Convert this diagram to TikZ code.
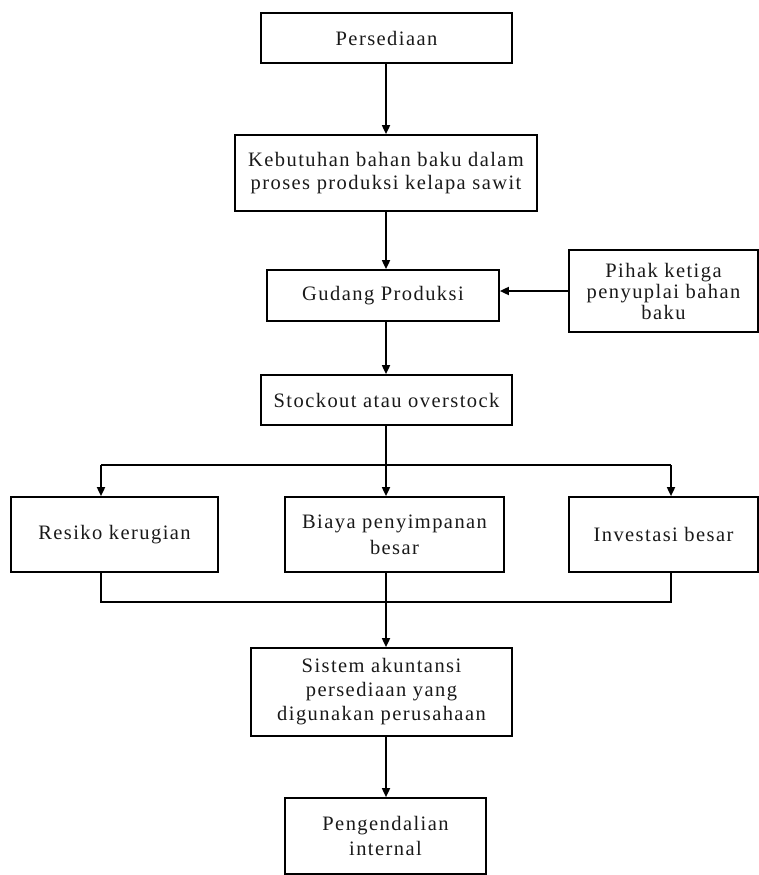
\documentclass[tikz,border=0pt]{standalone}
\usepackage{fontspec}
\setmainfont{Liberation Serif}[LetterSpace=7]
\usetikzlibrary{arrows.meta}
\begin{document}
\begin{tikzpicture}[x=1pt,y=-1pt,
  box/.style={draw=black,line width=1.7pt,rectangle,inner sep=0pt,align=center,
    font=\fontsize{20.5}{23}\selectfont,text=black!90},
  link/.style={draw=black,line width=1.7pt},
  arr/.style={link,-{Triangle[length=9pt,width=8pt]}}]
\useasboundingbox (0,0) rectangle (759,875);
\node[box,minimum width=251pt,minimum height=50pt] (pers) at (386.5,38) {Persediaan};
\node[box,minimum width=302pt,minimum height=76pt] (keb) at (386,173) {Kebutuhan bahan baku dalam\\proses produksi kelapa sawit};
\node[box,minimum width=232pt,minimum height=51pt] (gud) at (383,295.5) {Gudang Produksi};
\node[box,minimum width=189pt,minimum height=82pt,font=\fontsize{20.5}{21}\selectfont] (pihak) at (663.5,291) {Pihak ketiga\\penyuplai bahan\\baku};
\node[box,minimum width=251pt,minimum height=50pt] (stock) at (386.5,400) {Stockout atau overstock};
\node[box,minimum width=207pt,minimum height=75pt] (res) at (114.5,534.5) {Resiko kerugian};
\node[box,minimum width=219pt,minimum height=75pt,font=\fontsize{20.5}{26}\selectfont] (bia) at (394.5,534.5) {Biaya penyimpanan\\besar};
\node[box,minimum width=189pt,minimum height=75pt] (inv) at (663.5,534.5) {Investasi besar};
\node[box,minimum width=261pt,minimum height=88pt,font=\fontsize{20.5}{24}\selectfont] (sis) at (381.5,692) {Sistem akuntansi\\persediaan yang\\digunakan perusahaan};
\node[box,minimum width=201pt,minimum height=76pt,font=\fontsize{20.5}{25}\selectfont] (peng) at (385.5,836) {Pengendalian\\internal};
\coordinate (bl) at (101,465);
\coordinate (bc) at (386,465);
\coordinate (br) at (671,465);
\coordinate (ml) at (101,602);
\coordinate (mr) at (671,602);
\draw[arr] (pers.south -| bc) -- (keb.north -| bc);
\draw[arr] (keb.south -| bc) -- (gud.north -| bc);
\draw[arr] (pihak.west) -- (pihak.west -| gud.east);
\draw[arr] (gud.south -| bc) -- (stock.north -| bc);
\draw[link] (stock.south -| bc) -- (bc);
\draw[link] (bl) -- (br);
\draw[arr] (bl) -- (bl |- res.north);
\draw[arr] (bc) -- (bc |- bia.north);
\draw[arr] (br) -- (br |- inv.north);
\draw[link] (res.south -| ml) -- (ml) -- (mr) -- (inv.south -| mr);
\draw[arr] (bia.south -| bc) -- (sis.north -| bc);
\draw[arr] (sis.south -| bc) -- (peng.north -| bc);
\end{tikzpicture}
\end{document}
